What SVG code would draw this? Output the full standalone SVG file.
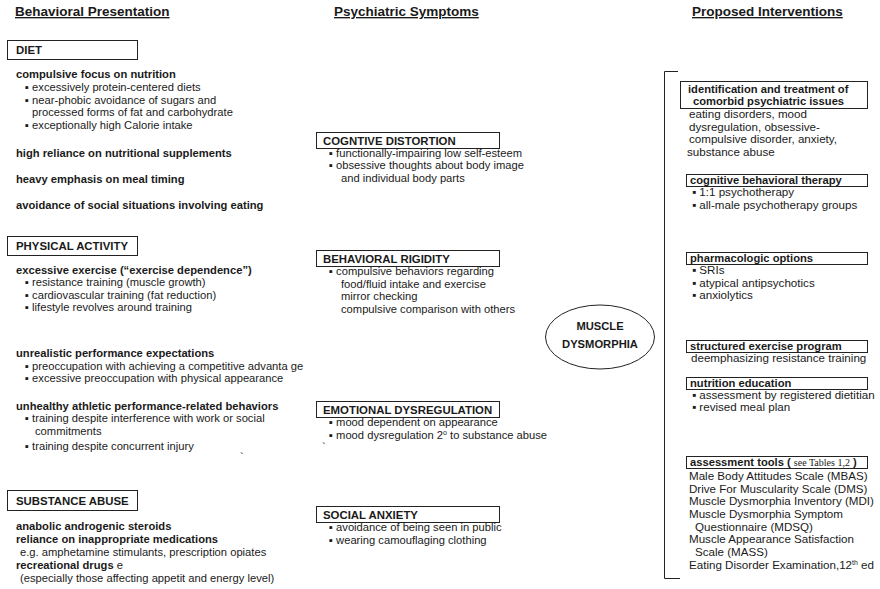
<svg xmlns="http://www.w3.org/2000/svg" width="880" height="589" viewBox="0 0 880 589">
<style>
text{font-family:"Liberation Sans",Arial,sans-serif;fill:#1a1a1a;font-size:11.2px}
.h{font-size:13.5px;font-weight:bold;text-decoration:underline}
.lbl{font-size:11.4px;font-weight:bold}
.b{font-weight:bold}
.r text{font-size:11.6px}
.r .b{font-size:11.2px}
.box{fill:none;stroke:#222;stroke-width:1}
.serif{font-family:"Liberation Serif","Times New Roman",serif;font-weight:normal;font-size:10px}
.sup{font-size:7px}
</style>
<rect width="880" height="589" fill="#fff"/>
<g id="headers">
<text class="h" x="15" y="16">Behavioral Presentation</text>
<text class="h" x="334" y="16">Psychiatric Symptoms</text>
<text class="h" x="692" y="16">Proposed Interventions</text>
</g>
<g id="diet">
<rect class="box" x="7.5" y="40.5" width="130" height="19"/>
<text class="lbl" x="16" y="54">DIET</text>
<text class="b" x="16" y="78">compulsive focus on nutrition</text>
<text x="25" y="91">▪ excessively protein-centered diets</text>
<text x="25" y="104">▪ near-phobic avoidance of sugars and</text>
<text x="32" y="116">processed forms of fat and carbohydrate</text>
<text x="25" y="129">▪ exceptionally high Calorie intake</text>
<text class="b" x="16" y="157">high reliance on nutritional supplements</text>
<text class="b" x="16" y="183">heavy emphasis on meal timing</text>
<text class="b" x="16" y="209">avoidance of social situations involving eating</text>
</g>
<g id="physical-activity">
<rect class="box" x="7.5" y="236.5" width="130" height="19"/>
<text class="lbl" x="16" y="250">PHYSICAL ACTIVITY</text>
<text class="b" x="16" y="274">excessive exercise (“exercise dependence”)</text>
<text x="25" y="286">▪ resistance training (muscle growth)</text>
<text x="25" y="299">▪ cardiovascular training (fat reduction)</text>
<text x="25" y="311">▪ lifestyle revolves around training</text>
<text class="b" x="16" y="357">unrealistic performance expectations</text>
<text x="25" y="370">▪ preoccupation with achieving a competitive advanta ge</text>
<text x="25" y="382">▪ excessive preoccupation with physical appearance</text>
<text class="b" x="16" y="410">unhealthy athletic performance-related behaviors</text>
<text x="25" y="422">▪ training despite interference with work or social</text>
<text x="35" y="435">commitments</text>
<text x="25" y="450">▪ training despite concurrent injury</text>
<text x="240" y="461" font-size="7">`</text>
</g>
<g id="substance-abuse">
<rect class="box" x="7.5" y="490.5" width="130" height="20"/>
<text class="lbl" x="16" y="505">SUBSTANCE ABUSE</text>
<text class="b" x="16" y="530">anabolic androgenic steroids</text>
<text class="b" x="16" y="543">reliance on inappropriate medications</text>
<text x="20" y="556">e.g. amphetamine stimulants, prescription opiates</text>
<text x="16" y="569"><tspan class="b">recreational drugs</tspan> e</text>
<text x="20" y="582">(especially those affecting appetit and energy level)</text>
</g>
<g id="cognitive-distortion">
<rect class="box" x="316.5" y="132.5" width="183" height="16"/>
<text class="lbl" x="323" y="145">COGNTIVE DISTORTION</text>
<text x="329" y="157">▪ functionally-impairing low self-esteem</text>
<text x="329" y="169">▪ obsessive thoughts about body image</text>
<text x="341" y="182">and individual body parts</text>
</g>
<g id="behavioral-rigidity">
<rect class="box" x="316.5" y="250.5" width="183" height="16"/>
<text class="lbl" x="323" y="263">BEHAVIORAL RIGIDITY</text>
<text x="329" y="275">▪ compulsive behaviors regarding</text>
<text x="341" y="288">food/fluid intake and exercise</text>
<text x="341" y="300">mirror checking</text>
<text x="341" y="313">compulsive comparison with others</text>
</g>
<g id="emotional-dysregulation">
<rect class="box" x="316.5" y="401.5" width="183" height="16"/>
<text class="lbl" x="323" y="414">EMOTIONAL DYSREGULATION</text>
<text x="329" y="426">▪ mood dependent on appearance</text>
<text x="329" y="439">▪ mood dysregulation 2<tspan class="sup" dy="-4">o</tspan><tspan dy="4"> to substance abuse</tspan></text>
<text x="322" y="451" font-size="7">`</text>
</g>
<g id="social-anxiety">
<rect class="box" x="316.5" y="506.5" width="183" height="16"/>
<text class="lbl" x="323" y="519">SOCIAL ANXIETY</text>
<text x="329" y="531">▪ avoidance of being seen in public</text>
<text x="329" y="544">▪ wearing camouflaging clothing</text>
</g>
<g id="muscle-dysmorphia">
<ellipse cx="600" cy="337" rx="54.5" ry="32" fill="none" stroke="#222" stroke-width="1"/>
<text x="600" y="330" text-anchor="middle" font-size="14" font-weight="bold">MUSCLE</text>
<text x="600" y="348" text-anchor="middle" font-size="14" font-weight="bold">DYSMORPHIA</text>
</g>
<g id="connectors">
<path d="M678 71.5 H664.5 V578.5 H680" fill="none" stroke="#222" stroke-width="1"/>
</g>
<g class="r">
<g id="comorbid">
<rect class="box" x="680.5" y="81.5" width="187" height="27"/>
<text class="b" x="688" y="93">identification and treatment of</text>
<text class="b" x="693" y="105">comorbid psychiatric issues</text>
<text x="689" y="118">eating disorders, mood</text>
<text x="689" y="131">dysregulation, obsessive-</text>
<text x="689" y="143">compulsive disorder, anxiety,</text>
<text x="687" y="156">substance abuse</text>
</g>
<g id="cbt">
<rect class="box" x="686.5" y="174.5" width="181" height="12"/>
<text class="b" x="690" y="184">cognitive behavioral therapy</text>
<text x="692" y="196">▪ 1:1 psychotherapy</text>
<text x="692" y="209">▪ all-male psychotherapy groups</text>
</g>
<g id="pharmacologic">
<rect class="box" x="686.5" y="252.5" width="181" height="12"/>
<text class="b" x="690" y="262">pharmacologic options</text>
<text x="692" y="274">▪ SRIs</text>
<text x="692" y="287">▪ atypical antipsychotics</text>
<text x="692" y="299">▪ anxiolytics</text>
</g>
<g id="exercise-program">
<rect class="box" x="686.5" y="340.5" width="181" height="12"/>
<text class="b" x="690" y="350">structured exercise program</text>
<text x="691" y="362">deemphasizing resistance training</text>
</g>
<g id="nutrition">
<rect class="box" x="686.5" y="377.5" width="181" height="12"/>
<text class="b" x="690" y="387">nutrition education</text>
<text x="692" y="399">▪ assessment by registered dietitian</text>
<text x="692" y="411">▪ revised meal plan</text>
</g>
<g id="assessment">
<rect class="box" x="686.5" y="456.5" width="181" height="12"/>
<text class="b" x="690" y="466">assessment tools ( <tspan class="serif">see Tables 1,2</tspan> )</text>
<text x="689" y="480">Male Body Attitudes Scale (MBAS)</text>
<text x="689" y="493">Drive For Muscularity Scale (DMS)</text>
<text x="689" y="505">Muscle Dysmorphia Inventory (MDI)</text>
<text x="689" y="518">Muscle Dysmorphia Symptom</text>
<text x="695" y="531">Questionnaire (MDSQ)</text>
<text x="689" y="543">Muscle Appearance Satisfaction</text>
<text x="695" y="556">Scale (MASS)</text>
<text x="689" y="569">Eating Disorder Examination,12<tspan class="sup" dy="-4">th</tspan><tspan dy="4"> ed</tspan></text>
</g>
</g>
</svg>
